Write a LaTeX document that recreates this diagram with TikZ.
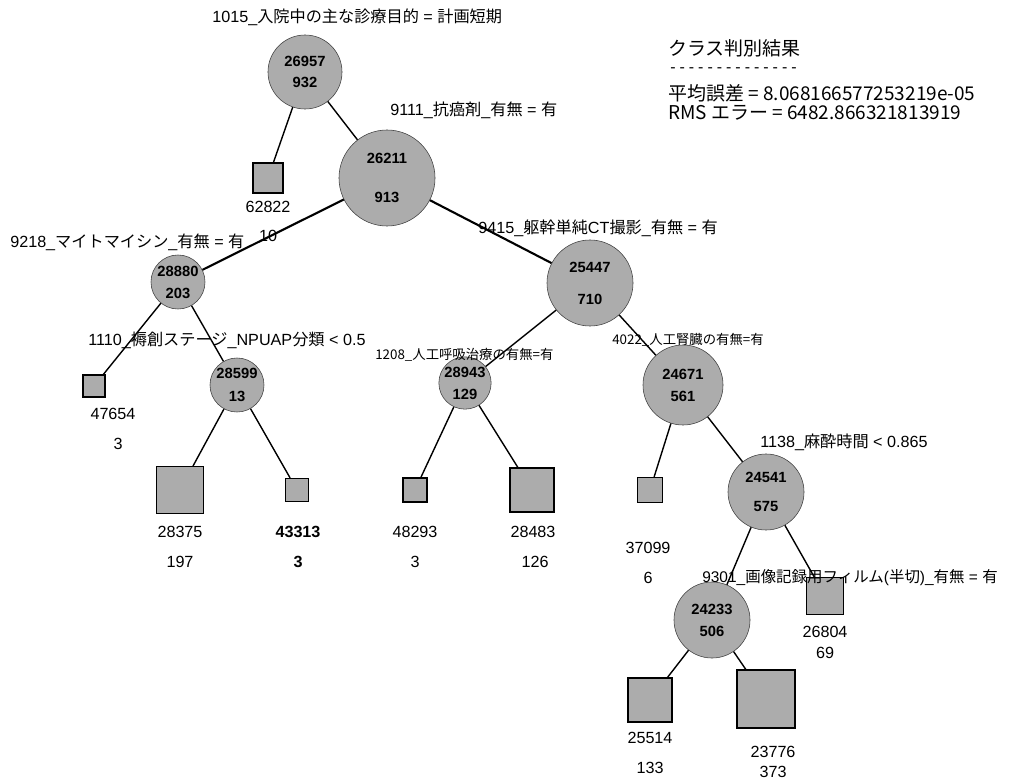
\documentclass[tikz,border=0pt]{standalone}
\usepackage{fontspec}
\setmainfont{Liberation Sans}
\newfontfamily\jpfont{Noto Sans CJK JP}
\newfontfamily\dashfont{DejaVu Sans Mono}
\newcommand{\J}[1]{{\jpfont #1}}
\definecolor{nodegray}{RGB}{172,172,172}

\begin{document}
\begin{tikzpicture}[x=0.025cm, y=0.025cm,
    split/.style={circle, draw=black!75, fill=nodegray, inner sep=0pt, minimum size=#1*0.05cm, align=center, font=\fontsize{10.5}{12}\selectfont\bfseries},
    leaf/.style={draw=black, line width=0.8pt, fill=nodegray, inner sep=0pt, minimum size=#1*0.025cm},
    num/.style={inner sep=0pt, font=\fontsize{11.5}{13}\selectfont},
    cond/.style={inner sep=0pt, anchor=west, font=\fontsize{11.5}{13}\selectfont},
    gothic/.style={inner sep=0pt, anchor=west, font=\fontsize{9.5}{11}\selectfont\jpfont},
    info/.style={inner sep=0pt, anchor=west, font=\fontsize{13.5}{15}\selectfont\jpfont},
    edge/.style={line width=1pt},
    heavy/.style={line width=1.5pt}]
    \useasboundingbox (0,0) rectangle (1024,-781);
    \fill[white] (0,0) rectangle (1024,-781);

    \node[split=37] (n26957) at (305,-72) {26957\\[3pt]932};
    \node[split=48] (n26211) at (387,-178) {26211\\[16pt]913};
    \node[split=27] (n28880) at (178,-282) {28880\\[3.6pt]203};
    \node[split=43] (n25447) at (590,-283) {25447\\[10.8pt]710};
    \node[split=27] (n28599) at (237,-385) {28599\\[4pt]13};
    \node[split=24] (n28943) at (465,-383) {28943\\[3.6pt]129};
    \node[split=40] (n24671) at (683,-385) {24671\\[3.6pt]561};
    \node[split=38] (n24541) at (766,-492) {24541\\[9pt]575};
    \node[split=38] (n24233) at (712,-620) {24233\\[3.6pt]506};

    \node[leaf=30] (l62822) at (268,-178) {};
    \node[leaf=22] (l47654) at (94,-386) {};
    \node[leaf=47] (l28375) at (180,-490) {};
    \node[leaf=23] (l43313) at (297,-490) {};
    \node[leaf=24] (l48293) at (415,-490) {};
    \node[leaf=44] (l28483) at (532,-490) {};
    \node[leaf=25] (l37099) at (650,-490) {};
    \node[leaf=37] (l26804) at (825,-596) {};
    \node[leaf=44] (l25514) at (650,-700) {};
    \node[leaf=58] (l23776) at (766,-699) {};

    \node[num] (t62822) at (268,-207) {62822};
    \node[num] (s62822) at (268,-236) {10};
    \node[num] (t47654) at (113,-414) {47654};
    \node[num] (s47654) at (118,-444) {3};
    \node[num] (t28375) at (180,-532) {28375};
    \node[num] (s28375) at (180,-562) {197};
    \node[num, font=\fontsize{11.5}{13}\selectfont\bfseries] (t43313) at (298,-532) {43313};
    \node[num, font=\fontsize{11.5}{13}\selectfont\bfseries] (s43313) at (298,-562) {3};
    \node[num] (t48293) at (415,-532) {48293};
    \node[num] (s48293) at (415,-562) {3};
    \node[num] (t28483) at (533,-532) {28483};
    \node[num] (s28483) at (535,-562) {126};
    \node[num] (t37099) at (648,-548) {37099};
    \node[num] (s37099) at (648,-578) {6};
    \node[num] (t26804) at (825,-632) {26804};
    \node[num] (s26804) at (825,-653) {69};
    \node[num] (t25514) at (650,-738) {25514};
    \node[num] (s25514) at (650,-768) {133};
    \node[num] (t23776) at (773,-752) {23776};
    \node[num] (s23776) at (773,-772) {373};

    \node[cond] (c1015) at (212,-17) {1015\_\J{入院中の主な診療目的} = \J{計画短期}};
    \node[cond] (c9111) at (390,-110) {9111\_\J{抗癌剤}\_\J{有無} = \J{有}};
    \node[cond] (c9218) at (10,-242) {9218\_\J{マイトマイシン}\_\J{有無} = \J{有}};
    \node[cond] (c9415) at (478,-228) {9415\_\J{躯幹単純}CT\J{撮影}\_\J{有無} = \J{有}};
    \node[cond] (c1110) at (88,-340) {1110\_\J{褥創ステージ}\_NPUAP\J{分類} < 0.5};
    \node[gothic] (c1208) at (375,-355) {1208\_人工呼吸治療の有無=有};
    \node[gothic] (c4022) at (612,-340) {4022\_人工腎臓の有無=有};
    \node[cond] (c1138) at (760,-442) {1138\_\J{麻酔時間} < 0.865};
    \node[cond, font=\fontsize{11}{13}\selectfont] (c9301) at (702,-578) {9301\_\J{画像記録用フィルム}(\J{半切})\_\J{有無} = \J{有}};

    \node[info] (i1) at (668,-48) {クラス判別結果};
    \node[info, font=\fontsize{11}{13}\selectfont\dashfont] (i2) at (668,-70) {{-}{-}{-}{-}{-}{-}{-}{-}{-}{-}{-}{-}{-}{-}};
    \node[info] (i3) at (668,-93) {平均誤差 = 8.068166577253219e-05};
    \node[info] (i4) at (668,-113) {RMS エラー = 6482.866321813919};

    \draw[edge] (n26957) -- (l62822);
    \draw[edge] (n26957) -- (n26211);
    \draw[heavy] (n26211) -- (n28880);
    \draw[heavy] (n26211) -- (n25447);
    \draw[edge] (n28880) -- (l47654);
    \draw[edge] (n28880) -- (n28599);
    \draw[edge] (n28599) -- (l28375);
    \draw[edge] (n28599) -- (l43313);
    \draw[edge] (n25447) -- (n28943);
    \draw[edge] (n25447) -- (n24671);
    \draw[edge] (n28943) -- (l48293);
    \draw[edge] (n28943) -- (l28483);
    \draw[edge] (n24671) -- (l37099);
    \draw[edge] (n24671) -- (n24541);
    \draw[edge] (n24541) -- (n24233);
    \draw[edge] (n24541) -- (l26804);
    \draw[edge] (n24233) -- (l25514);
    \draw[edge] (n24233) -- (l23776);
\end{tikzpicture}
\end{document}
